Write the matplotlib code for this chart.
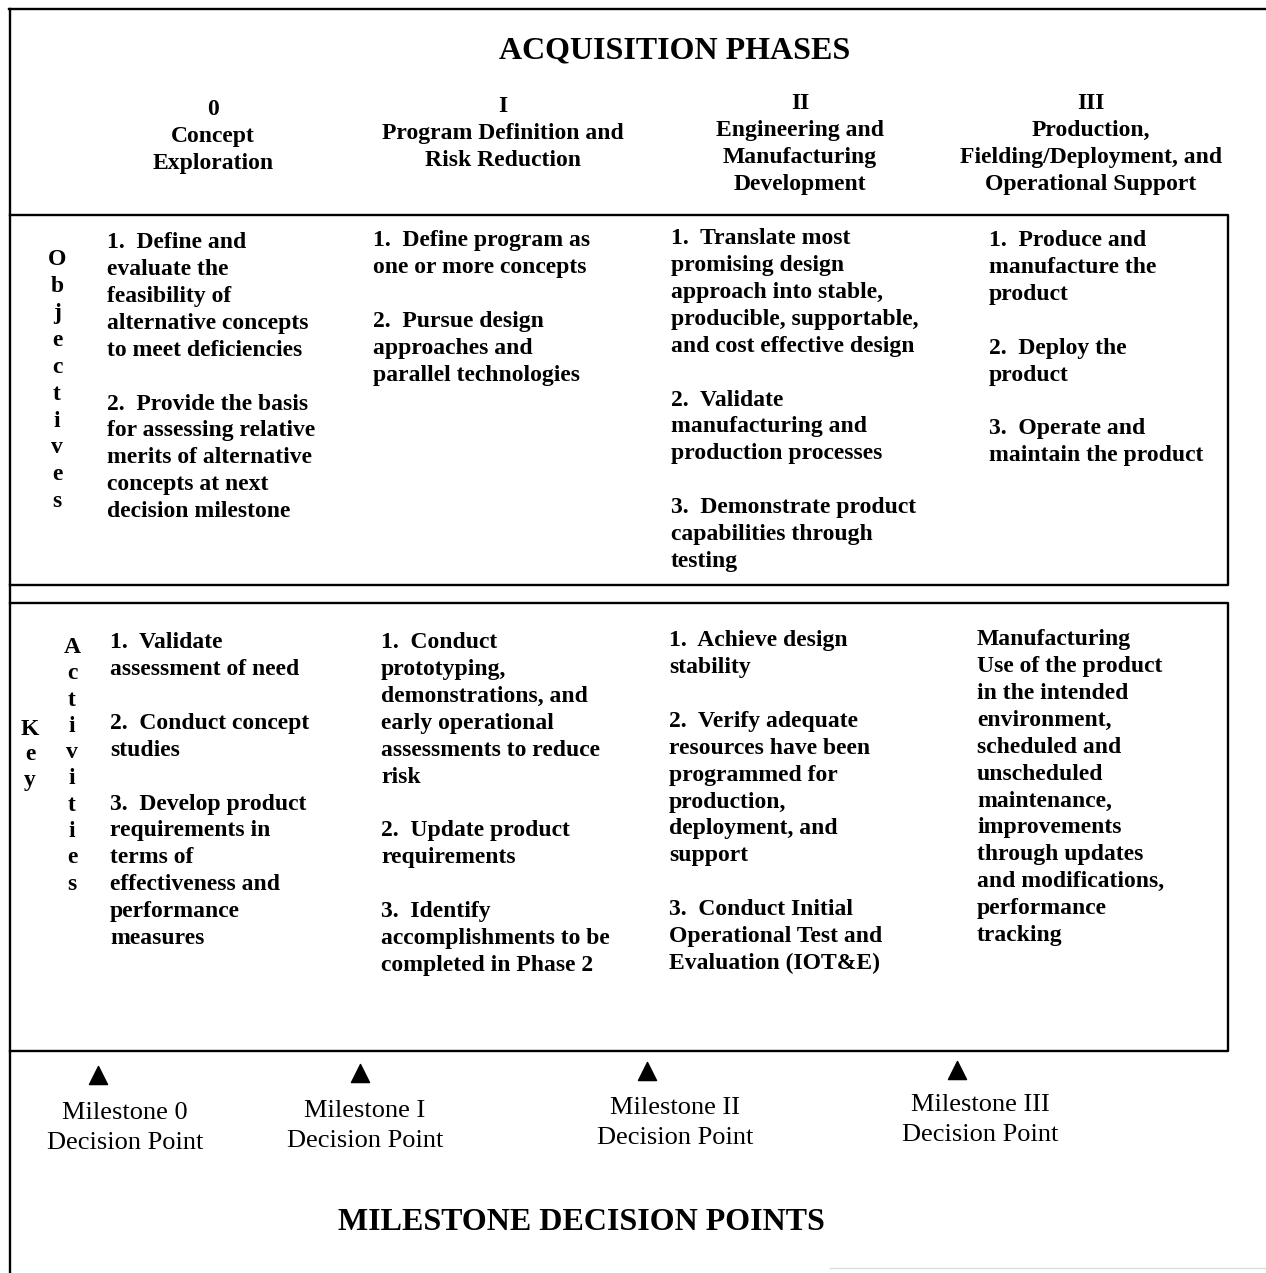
import matplotlib
matplotlib.use("Agg")
import matplotlib.pyplot as plt

# headings
title_top = "ACQUISITION PHASES"
title_bottom = "MILESTONE DECISION POINTS"

phase_headers = [
    "0\nConcept\nExploration",
    "I\nProgram Definition and\nRisk Reduction",
    "II\nEngineering and\nManufacturing\nDevelopment",
    "III\nProduction,\nFielding/Deployment, and\nOperational Support",
]

objectives = [
    "1.  Define and\nevaluate the\nfeasibility of\nalternative concepts\nto meet deficiencies\n\n"
    "2.  Provide the basis\nfor assessing relative\nmerits of alternative\nconcepts at next\ndecision milestone",
    "1.  Define program as\none or more concepts\n\n"
    "2.  Pursue design\napproaches and\nparallel technologies",
    "1.  Translate most\npromising design\napproach into stable,\nproducible, supportable,\nand cost effective design\n\n"
    "2.  Validate\nmanufacturing and\nproduction processes\n\n"
    "3.  Demonstrate product\ncapabilities through\ntesting",
    "1.  Produce and\nmanufacture the\nproduct\n\n"
    "2.  Deploy the\nproduct\n\n"
    "3.  Operate and\nmaintain the product",
]

activities = [
    "1.  Validate\nassessment of need\n\n"
    "2.  Conduct concept\nstudies\n\n"
    "3.  Develop product\nrequirements in\nterms of\neffectiveness and\nperformance\nmeasures",
    "1.  Conduct\nprototyping,\ndemonstrations, and\nearly operational\nassessments to reduce\nrisk\n\n"
    "2.  Update product\nrequirements\n\n"
    "3.  Identify\naccomplishments to be\ncompleted in Phase 2",
    "1.  Achieve design\nstability\n\n"
    "2.  Verify adequate\nresources have been\nprogrammed for\nproduction,\ndeployment, and\nsupport\n\n"
    "3.  Conduct Initial\nOperational Test and\nEvaluation (IOT&E)",
    "Manufacturing\nUse of the product\nin the intended\nenvironment,\nscheduled and\nunscheduled\nmaintenance,\nimprovements\nthrough updates\nand modifications,\nperformance\ntracking",
]

milestones = [
    "Milestone 0\nDecision Point",
    "Milestone I\nDecision Point",
    "Milestone II\nDecision Point",
    "Milestone III\nDecision Point",
]

side_objectives = "Objectives"
side_activities = "Activities"
side_key = "Key"

# layout (pixels, y down), y = centre of first line
W, H = 1266, 1273
header_x = [213, 503, 800, 1091]
header_y = [107, 104, 101, 101]
obj_x = [107, 373, 671, 989]
obj_y = [240, 238, 236, 238]
act_x = [110, 381, 669, 977]
act_y = [640, 640, 638, 637]
tri_x = [98, 360, 647, 957]
tri_y = [1075, 1073, 1071, 1070]
ms_x = [125, 365, 675, 980]
ms_y = [1110, 1108, 1105, 1102]

SERIF = "Liberation Serif"
BODY = 17
LS = 1.37
TOP = 8  # first-line centre minus text top

fig = plt.figure(figsize=(W / 100, H / 100), dpi=100)
ax = fig.add_axes([0, 0, 1, 1])
ax.set_xlim(0, W)
ax.set_ylim(H, 0)
ax.axis("off")

lw = 1.7
k = "black"
# outer frame
ax.plot([9, W], [9, 9], color=k, lw=lw)
ax.plot([10, 10], [9, H], color=k, lw=lw)
# objectives box
ax.plot([10, 1228, 1228, 10], [215, 215, 585, 585], color=k, lw=lw)
# activities box
ax.plot([10, 1228, 1228, 10], [603, 603, 1051, 1051], color=k, lw=lw)
ax.plot([830, W], [1268, 1268], color="#dddddd", lw=1)

ax.text(675, 48 + 10, title_top, fontsize=23, fontweight="bold",
        family=SERIF, ha="center", va="baseline")
ax.text(581, 1220 + 10, title_bottom, fontsize=23, fontweight="bold",
        family=SERIF, ha="center", va="baseline")


def block(x, y, s, ha="left", ls=LS, size=BODY, weight="bold", top=TOP):
    ax.text(x, y - top, s, fontsize=size, fontweight=weight, family=SERIF,
            ha=ha, va="top", linespacing=ls)


for x, y, s in zip(header_x, header_y, phase_headers):
    block(x, y, s, ha="center")

for x, y, s in zip(obj_x, obj_y, objectives):
    block(x, y, s)

for x, y, s in zip(act_x, act_y, activities):
    block(x, y, s)

# vertical side labels, one letter per line
block(57, 257, "\n".join(side_objectives), ha="center")
block(72, 645, "\n".join(side_activities), ha="center", ls=1.33)
block(30, 727, "\n".join(side_key), ha="center", ls=1.27)

ax.scatter(tri_x, tri_y, marker="^", s=170, color=k, zorder=3)
for x, y, s in zip(ms_x, ms_y, milestones):
    block(x, y, s, ha="center", ls=1.48, size=19, weight="normal", top=8)

fig.savefig("out.png", dpi=100, facecolor="white")
